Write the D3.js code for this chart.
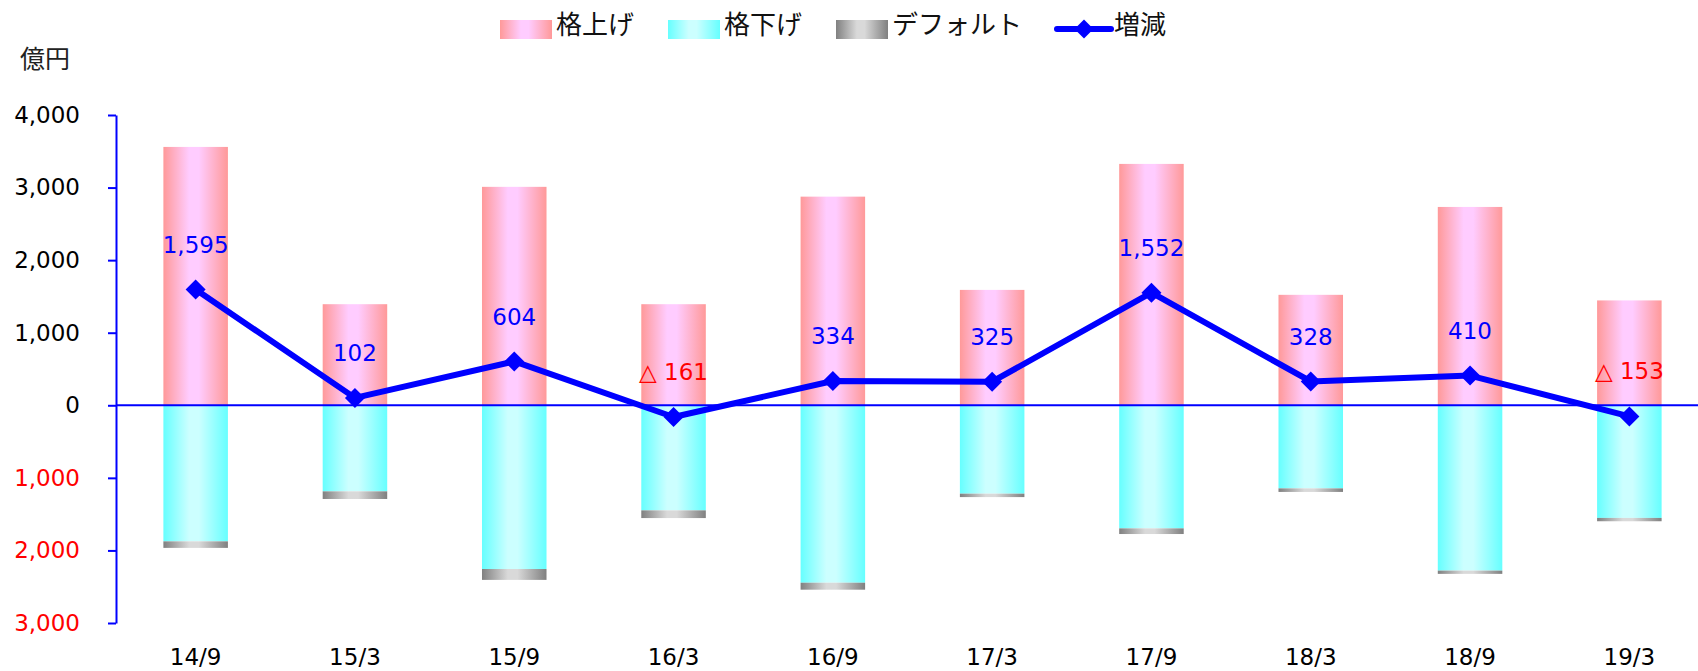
<!DOCTYPE html>
<html><head><meta charset="utf-8">
<script src="https://cdn.jsdelivr.net/npm/d3@7"></script>
<style>
html,body{margin:0;padding:0;background:#fff;}
svg{display:block;font-family:"DejaVu Sans","Noto Sans CJK JP",sans-serif;}
</style></head>
<body>
<svg id="chart" width="1698" height="671"></svg>
<script>
// ---- data ----
const categories = ["14/9","15/3","15/9","16/3","16/9","17/3","17/9","18/3","18/9","19/3"];
const upgrades   = [3560,1393,3010,1393,2875,1590,3326,1522,2733,1445];
const downgrades = [1875,1186,2256,1448,2445,1218,1696,1145,2278,1552];
const defaults   = [90,105,150,106,96,47,78,49,45,46];
const netChange  = [1595,102,604,-161,334,325,1552,328,410,-153];
const yTicks     = [-3000,-2000,-1000,0,1000,2000,3000,4000];
const seriesNames = ["格上げ","格下げ","デフォルト","増減"];
const unitLabel = "億円";

// ---- setup ----
const svg = d3.select("#chart");
const W = 1698, H = 671;
const x = d3.scaleBand().domain(categories).range([116, 1709]).paddingInner(0.595).paddingOuter(0.2975);
const y = d3.scaleLinear().domain([-3000, 4000]).range([623, 115]);
const fmt = d3.format(",");

const defs = svg.append("defs");
function grad(id, edge, mid) {
  const g = defs.append("linearGradient").attr("id", id).attr("x1","0%").attr("x2","100%").attr("y1","0%").attr("y2","0%");
  g.append("stop").attr("offset","0%").attr("stop-color",edge);
  g.append("stop").attr("offset","40%").attr("stop-color",mid);
  g.append("stop").attr("offset","55%").attr("stop-color",mid);
  g.append("stop").attr("offset","100%").attr("stop-color",edge);
}
grad("gUp", "#FF9999", "#FFCCFF");
grad("gDown", "#66FFFF", "#CCFFFF");
grad("gDef", "#808080", "#D9D9D9");

// ---- bars ----
const bw = x.bandwidth();
svg.append("g").selectAll("rect").data(categories).join("rect")
  .attr("x", d => x(d)).attr("width", bw)
  .attr("y", (d,i) => y(upgrades[i])).attr("height", (d,i) => y(0) - y(upgrades[i]))
  .attr("fill", "url(#gUp)");
svg.append("g").selectAll("rect").data(categories).join("rect")
  .attr("x", d => x(d)).attr("width", bw)
  .attr("y", y(0)).attr("height", (d,i) => y(-downgrades[i]) - y(0))
  .attr("fill", "url(#gDown)");
svg.append("g").selectAll("rect").data(categories).join("rect")
  .attr("x", d => x(d)).attr("width", bw)
  .attr("y", (d,i) => y(-downgrades[i])).attr("height", (d,i) => y(-downgrades[i]-defaults[i]) - y(-downgrades[i]))
  .attr("fill", "url(#gDef)");

// ---- axis ----
const axis = d3.axisLeft(y).tickValues(yTicks).tickSize(8).tickSizeOuter(0).tickPadding(28)
  .tickFormat(d => fmt(Math.abs(d)));
const ag = svg.append("g").attr("transform", "translate(116,0)").call(axis);
ag.select(".domain").attr("stroke", "#0000FF").attr("stroke-width", 2);
ag.selectAll(".tick line").attr("stroke", "#0000FF").attr("stroke-width", 2);
ag.selectAll(".tick text").attr("font-size", 23).attr("font-family", "DejaVu Sans")
  .attr("fill", d => d < 0 ? "#FF0000" : "#000000");

// zero line
svg.append("line").attr("x1", 116).attr("x2", W).attr("y1", y(0)).attr("y2", y(0))
  .attr("stroke", "#0000FF").attr("stroke-width", 2);

// x labels
svg.append("g").selectAll("text").data(categories).join("text")
  .attr("x", d => x(d) + bw/2).attr("y", 657).attr("dy", "0.35em")
  .attr("text-anchor", "middle").attr("font-size", 23).attr("fill", "#000").text(d => d);

// ---- line ----
const cx = (d,i) => x(categories[i]) + bw/2;
const line = d3.line().x((d,i) => cx(d,i)).y(d => y(d));
svg.append("path").datum(netChange).attr("d", line)
  .attr("fill", "none").attr("stroke", "#0000FF").attr("stroke-width", 6).attr("stroke-linejoin", "round");
svg.append("g").selectAll("path").data(netChange).join("path")
  .attr("transform", (d,i) => `translate(${cx(d,i)},${y(d)}) rotate(45)`)
  .attr("d", d3.symbol().type(d3.symbolSquare).size(200)())
  .attr("fill", "#0000FF");

// value labels
svg.append("g").selectAll("text").data(netChange).join("text")
  .attr("x", (d,i) => cx(d,i)).attr("y", d => y(d) - 45).attr("dy", "0.35em")
  .attr("text-anchor", "middle").attr("font-size", 23)
  .attr("fill", d => d < 0 ? "#FF0000" : "#0000FF")
  .text(d => d < 0 ? "△ " + fmt(Math.abs(d)) : fmt(d));

// unit label
svg.append("text").attr("x", 20).attr("y", 59).attr("dy", "0.35em")
  .attr("font-size", 25).attr("font-family", "Noto Sans CJK JP").attr("fill", "#222").text(unitLabel);

// ---- legend ----
const leg = svg.append("g").attr("font-family", "Noto Sans CJK JP").attr("font-size", 26);
const swatches = [["url(#gUp)", 500, 556], ["url(#gDown)", 668, 724], ["url(#gDef)", 836, 892]];
swatches.forEach((s, i) => {
  leg.append("rect").attr("x", s[1]).attr("y", 20).attr("width", 52).attr("height", 19).attr("fill", s[0]);
  leg.append("text").attr("x", s[2]).attr("y", 25).attr("dy", "0.35em").attr("fill", "#111").text(seriesNames[i]);
});
leg.append("line").attr("x1", 1057).attr("x2", 1111).attr("y1", 29).attr("y2", 29)
  .attr("stroke", "#0000FF").attr("stroke-width", 6).attr("stroke-linecap", "round");
leg.append("path").attr("transform", "translate(1084,29) rotate(45)")
  .attr("d", d3.symbol().type(d3.symbolSquare).size(180)()).attr("fill", "#0000FF");
leg.append("text").attr("x", 1114).attr("y", 25).attr("dy", "0.35em").attr("fill", "#111").text(seriesNames[3]);
</script>
</body></html>
